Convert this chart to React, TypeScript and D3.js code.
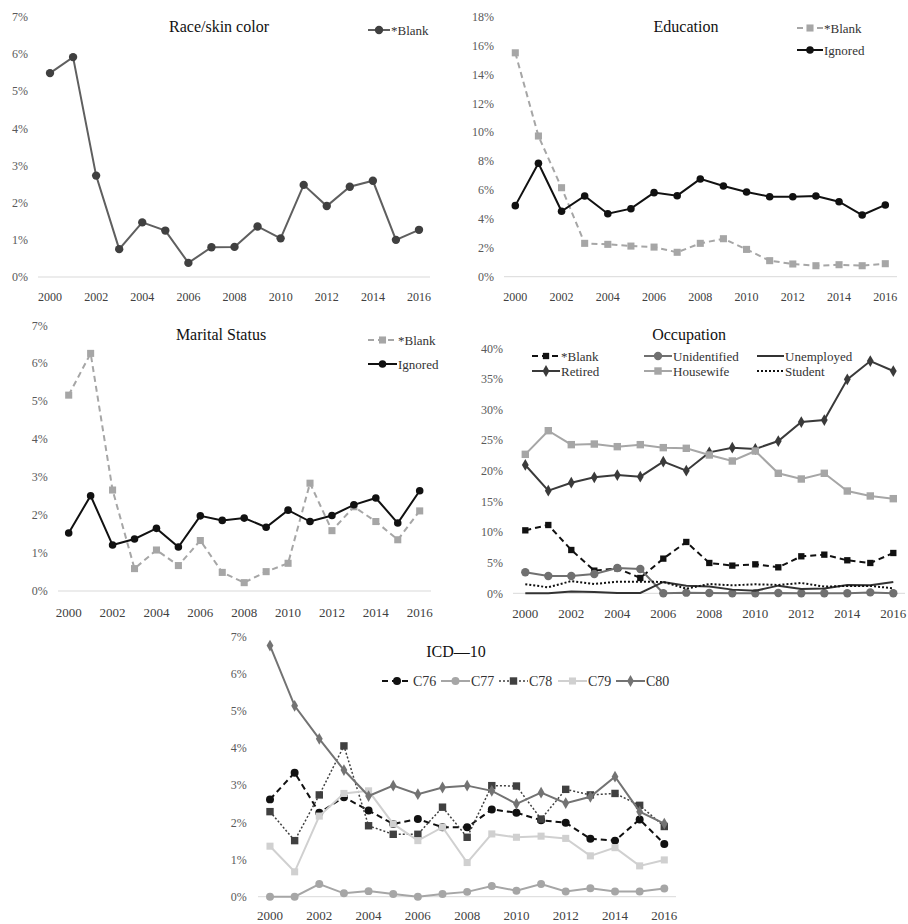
import * as d3 from "d3";

const years = d3.range(2000, 2017);
const yearTicks = [2000, 2002, 2004, 2006, 2008, 2010, 2012, 2014, 2016];

// Race/skin color
const raceBlank = [5.49, 5.92, 2.73, 0.75, 1.47, 1.25, 0.38, 0.8, 0.81, 1.36, 1.04, 2.48, 1.91, 2.43, 2.59, 1.0, 1.27];

// Education
const eduBlank = [15.5, 9.74, 6.16, 2.31, 2.24, 2.12, 2.05, 1.69, 2.31, 2.63, 1.89, 1.11, 0.88, 0.76, 0.83, 0.76, 0.9];
const eduIgnored = [4.92, 7.85, 4.53, 5.59, 4.36, 4.71, 5.82, 5.61, 6.77, 6.28, 5.87, 5.54, 5.54, 5.59, 5.19, 4.27, 4.97];

// Marital status
const marBlank = [5.16, 6.26, 2.66, 0.59, 1.08, 0.67, 1.33, 0.49, 0.22, 0.51, 0.73, 2.84, 1.59, 2.22, 1.83, 1.35, 2.11];
const marIgnored = [1.53, 2.51, 1.21, 1.37, 1.65, 1.16, 1.98, 1.86, 1.92, 1.68, 2.13, 1.83, 1.99, 2.27, 2.45, 1.79, 2.64];

// Occupation
const occBlank = [10.28, 11.15, 7.07, 3.7, 4.08, 2.5, 5.66, 8.38, 4.95, 4.52, 4.73, 4.24, 6.04, 6.31, 5.39, 4.95, 6.58];
const occUnidentified = [3.43, 2.83, 2.83, 3.16, 4.13, 3.97, 0, 0.1, 0.05, 0, 0, 0.05, 0, 0, 0, 0.15, 0];
const occUnemployed = [0, 0, 0.3, 0.2, 0.05, 0.05, 1.85, 1.25, 1.1, 0.6, 0.4, 1.25, 0.7, 0.8, 1.35, 1.3, 1.85];
const occRetired = [20.95, 16.76, 18.06, 18.93, 19.31, 19.04, 21.49, 20.02, 23.01, 23.78, 23.56, 24.86, 27.96, 28.29, 34.93, 37.92, 36.29];
const occHousewife = [22.69, 26.55, 24.27, 24.37, 23.94, 24.27, 23.78, 23.67, 22.58, 21.6, 23.23, 19.59, 18.66, 19.59, 16.7, 15.89, 15.45];
const occStudent = [1.47, 0.98, 2.0, 1.52, 1.9, 1.9, 1.85, 0.76, 1.52, 1.3, 1.47, 1.36, 1.69, 1.09, 1.2, 1.2, 0.82];

// ICD-10
const c76 = [2.62, 3.34, 2.26, 2.68, 2.32, 1.96, 2.09, 1.87, 1.87, 2.35, 2.26, 2.06, 1.99, 1.56, 1.51, 2.08, 1.42];
const c77 = [0, 0, 0.34, 0.09, 0.15, 0.07, 0, 0.07, 0.13, 0.29, 0.16, 0.34, 0.14, 0.23, 0.14, 0.14, 0.22];
const c78 = [2.29, 1.51, 2.74, 4.06, 1.91, 1.68, 1.68, 2.41, 1.6, 2.99, 2.98, 2.09, 2.89, 2.74, 2.78, 2.46, 1.89];
const c79 = [1.36, 0.67, 2.17, 2.78, 2.85, 1.96, 1.51, 1.87, 0.92, 1.69, 1.6, 1.63, 1.57, 1.1, 1.32, 0.83, 0.99];
const c80 = [6.76, 5.14, 4.25, 3.41, 2.71, 2.99, 2.76, 2.94, 2.99, 2.85, 2.5, 2.8, 2.52, 2.69, 3.23, 2.29, 1.97];

type Marker = "circle" | "square" | "diamond" | null;
type Series = {
  name: string; values: number[]; color: string; mcolor?: string;
  dash?: string; width?: number; marker: Marker; msize?: number;
};
type Legend = { x1: number; x2: number; y: number };

const FONT = "'Liberation Serif', 'Times New Roman', serif";

const symbolOf = (m: Marker) =>
  m === "square" ? d3.symbolSquare : m === "diamond" ? d3.symbolDiamond : d3.symbolCircle;

function MarkerShape(props: { m: Marker; x: number; y: number; size: number; color: string }) {
  if (!props.m) return null;
  const path = d3.symbol().type(symbolOf(props.m)).size(props.size)()!;
  return <path d={path} transform={`translate(${props.x},${props.y})`} fill={props.color} />;
}

function Panel(props: {
  title: string; titleX: number; titleY: number;
  x0: number; x1: number; axisL: number; axisR: number;
  yBottom: number; yTop: number; yMax: number; yStep: number; labelX: number;
  xLabelY: number; fontSize: number;
  series: Series[]; legends: Legend[];
}) {
  const x = d3.scaleLinear().domain([2000, 2016]).range([props.x0, props.x1]);
  const y = d3.scaleLinear().domain([0, props.yMax]).range([props.yBottom, props.yTop]);
  const yTicks = d3.range(0, props.yMax + 0.001, props.yStep);
  const line = d3.line<number>().x((_, i) => x(years[i])).y(d => y(d));
  return (
    <g>
      <line x1={props.axisL} x2={props.axisR} y1={y(0)} y2={y(0)} stroke="#d9d9d9" strokeWidth={1} />
      {yTicks.map(t => (
        <text key={t} x={props.labelX} y={y(t)} dy="0.35em" textAnchor="end" fontSize={12} fill="#595959" fontFamily={FONT}>
          {`${Math.round(t)}%`}
        </text>
      ))}
      {yearTicks.map(t => (
        <text key={t} x={x(t)} y={props.xLabelY} dy="0.35em" textAnchor="middle" fontSize={props.fontSize} fill="#404040" fontFamily={FONT}>
          {t}
        </text>
      ))}
      <text x={props.titleX} y={props.titleY} dy="0.35em" textAnchor="middle" fontSize={16} fill="#111" fontFamily={FONT}>
        {props.title}
      </text>
      {props.series.map(s => (
        <g key={s.name}>
          <path d={line(s.values)!} fill="none" stroke={s.color} strokeWidth={s.width ?? 2} strokeDasharray={s.dash} />
          {s.values.map((v, i) => (
            <MarkerShape key={i} m={s.marker} x={x(years[i])} y={y(v)} size={s.msize ?? 40} color={s.mcolor ?? s.color} />
          ))}
        </g>
      ))}
      {props.series.map((s, i) => {
        const lg = props.legends[i];
        return (
          <g key={"lg" + s.name}>
            <line x1={lg.x1} x2={lg.x2} y1={lg.y} y2={lg.y} stroke={s.color} strokeWidth={s.width ?? 2} strokeDasharray={s.dash} />
            <MarkerShape m={s.marker} x={(lg.x1 + lg.x2) / 2} y={lg.y} size={s.msize ?? 40} color={s.mcolor ?? s.color} />
            <text x={lg.x2 + 1} y={lg.y} dy="0.35em" fontSize={props.legends.length === 5 ? 14 : 13} fill="#333" fontFamily={FONT}>
              {s.name}
            </text>
          </g>
        );
      })}
    </g>
  );
}

export default function App() {
  return (
    <svg width={908} height={924} style={{ position: "absolute", left: 0, top: 0, background: "#fff" }}>
      <rect width={908} height={924} fill="#fff" />
      <Panel
        title="Race/skin color" titleX={219} titleY={26}
        x0={50} x1={419} axisL={38} axisR={430}
        yBottom={277} yTop={17} yMax={7} yStep={1} labelX={28}
        xLabelY={297} fontSize={12}
        series={[{ name: "*Blank", values: raceBlank, color: "#5f5f5f", mcolor: "#404040", marker: "circle", msize: 55 }]}
        legends={[{ x1: 368, x2: 390, y: 30 }]}
      />
      <Panel
        title="Education" titleX={686} titleY={26}
        x0={515.3} x1={885.3} axisL={504} axisR={897}
        yBottom={276.7} yTop={16.7} yMax={18} yStep={2} labelX={494}
        xLabelY={297} fontSize={12}
        series={[
          { name: "*Blank", values: eduBlank, color: "#a6a6a6", dash: "6,4", marker: "square", msize: 50 },
          { name: "Ignored", values: eduIgnored, color: "#111", marker: "circle", msize: 45 },
        ]}
        legends={[{ x1: 797, x2: 823, y: 28 }, { x1: 797, x2: 823, y: 50 }]}
      />
      <Panel
        title="Marital Status" titleX={221} titleY={334}
        x0={68.7} x1={419.7} axisL={58} axisR={431}
        yBottom={591} yTop={325.3} yMax={7} yStep={1} labelX={47.7}
        xLabelY={612} fontSize={13}
        series={[
          { name: "*Blank", values: marBlank, color: "#a6a6a6", dash: "6,4", marker: "square", msize: 50 },
          { name: "Ignored", values: marIgnored, color: "#111", marker: "circle", msize: 45 },
        ]}
        legends={[{ x1: 368, x2: 397, y: 340 }, { x1: 368, x2: 397, y: 364 }]}
      />
      <Panel
        title="Occupation" titleX={689} titleY={334}
        x0={525.3} x1={893.3} axisL={513} axisR={905}
        yBottom={593.3} yTop={348.3} yMax={40} yStep={5} labelX={503}
        xLabelY={613} fontSize={13}
        series={[
          { name: "*Blank", values: occBlank, color: "#111", dash: "6,4", marker: "square", msize: 40 },
          { name: "Unidentified", values: occUnidentified, color: "#707070", marker: "circle", msize: 55 },
          { name: "Unemployed", values: occUnemployed, color: "#333", marker: null },
          { name: "Retired", values: occRetired, color: "#3a3a3a", marker: "diamond", msize: 40 },
          { name: "Housewife", values: occHousewife, color: "#a6a6a6", marker: "square", msize: 55 },
          { name: "Student", values: occStudent, color: "#111", dash: "2,2", marker: null },
        ]}
        legends={[
          { x1: 532, x2: 560, y: 356 }, { x1: 644, x2: 672, y: 356 }, { x1: 757, x2: 784, y: 356 },
          { x1: 532, x2: 560, y: 371 }, { x1: 644, x2: 672, y: 371 }, { x1: 757, x2: 784, y: 371 },
        ]}
      />
      <Panel
        title="ICD—10" titleX={456} titleY={651}
        x0={270} x1={664.3} axisL={258} axisR={676}
        yBottom={896.7} yTop={636.7} yMax={7} yStep={1} labelX={246.7}
        xLabelY={915.5} fontSize={13}
        series={[
          { name: "C76", values: c76, color: "#111", dash: "6,4", marker: "circle", msize: 50 },
          { name: "C77", values: c77, color: "#a6a6a6", marker: "circle", msize: 50 },
          { name: "C78", values: c78, color: "#404040", dash: "2,2", width: 1.5, marker: "square", msize: 55 },
          { name: "C79", values: c79, color: "#d0d0d0", marker: "square", msize: 50 },
          { name: "C80", values: c80, color: "#737373", marker: "diamond", msize: 40 },
        ]}
        legends={[
          { x1: 382, x2: 412, y: 681 }, { x1: 441, x2: 470, y: 681 }, { x1: 499, x2: 528, y: 681 },
          { x1: 558, x2: 587, y: 681 }, { x1: 616, x2: 645, y: 681 },
        ]}
      />
    </svg>
  );
}
